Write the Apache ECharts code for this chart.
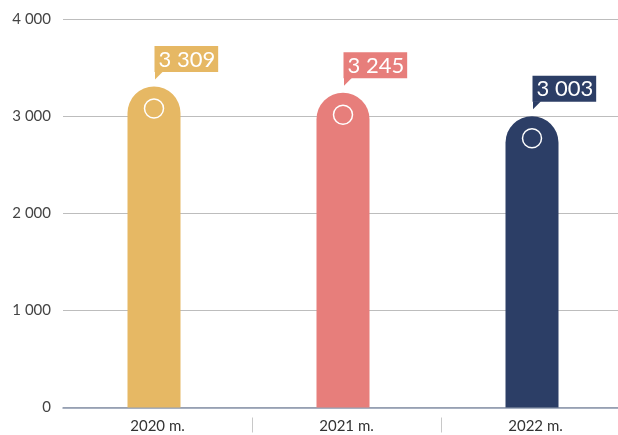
<!DOCTYPE html>
<html><head><meta charset="utf-8">
<script src="https://cdn.jsdelivr.net/npm/echarts@6/dist/echarts.min.js"></script>
<style>html,body{margin:0;padding:0;background:#fff}#c{width:618px;height:435px}</style>
</head><body><div id="c"></div>
<script>
const categories = ['2020 m.', '2021 m.', '2022 m.'];
const values = [3309, 3245, 3003];
const colors = ['#e6b864', '#e77e7b', '#2c3e66'];
const yTicks = [0, 1000, 2000, 3000, 4000];

const fmt = v => String(v).replace(/\B(?=(\d{3})+(?!\d))/g, ' ');
const shift = -3.5;
const chart = echarts.init(document.getElementById('c'), null, {renderer: 'canvas'});
chart.setOption({
  animation: false,
  grid: {left: 63, width: 567, top: 19.5, bottom: 27.5, containLabel: false, outerBoundsMode: 'none'},
  xAxis: [{
    type: 'category', data: categories,
    axisLine: {show: true, lineStyle: {color: '#8a97ad', width: 1.5}},
    axisTick: {show: false},
    axisLabel: {color: '#333', fontSize: 15, fontFamily: 'Lato', margin: 11}
  }, {
    type: 'category', data: categories, position: 'bottom', offset: 10,
    axisLine: {show: false},
    axisTick: {show: true, length: 15, interval: (i) => i > 0, lineStyle: {color: '#c8c8c8'}},
    axisLabel: {show: false}
  }],
  yAxis: {
    type: 'value', min: yTicks[0], max: yTicks[yTicks.length - 1], interval: 1000,
    axisLine: {show: false}, axisTick: {show: false},
    splitLine: {lineStyle: {color: '#bdbdbd'}},
    axisLabel: {color: '#444', fontSize: 15, fontFamily: 'Lato', margin: 12, formatter: fmt}
  },
  series: [{
    type: 'bar', barWidth: 53, barGap: 0,
    data: values.map((v, i) => ({value: v, itemStyle: {color: colors[i], borderRadius: [26.5, 26.5, 0, 0]}}))
  }, {
    type: 'bar', barWidth: 7, barGap: 0, silent: true,
    itemStyle: {color: 'rgba(0,0,0,0)'},
    data: values
  }, {
    type: 'scatter', symbol: 'circle', symbolSize: 19, symbolOffset: [shift, 22], z: 5,
    itemStyle: {color: 'rgba(0,0,0,0)', borderColor: '#fff', borderWidth: 1.5, opacity: 1},
    data: values
  }, {
    type: 'scatter', symbol: 'path://M0,0 L8,0 L0,8 Z', symbolSize: [8, 8], symbolOffset: [5 + shift, -11], z: 5,
    data: values.map((v, i) => ({value: v, itemStyle: {color: colors[i], opacity: 1}}))
  }, {
    type: 'scatter', symbolSize: 1, z: 6,
    itemStyle: {color: 'rgba(0,0,0,0)', opacity: 1},
    data: values.map((v, i) => ({
      value: v,
      label: {
        show: true, position: [1 + shift, -14], align: 'left', verticalAlign: 'bottom',
        formatter: p => fmt(p.value), color: '#fff', fontSize: 22, fontFamily: 'Lato',
        backgroundColor: colors[i], padding: [2, 3, 1, 4], lineHeight: 23
      }
    }))
  }]
});
</script></body></html>
